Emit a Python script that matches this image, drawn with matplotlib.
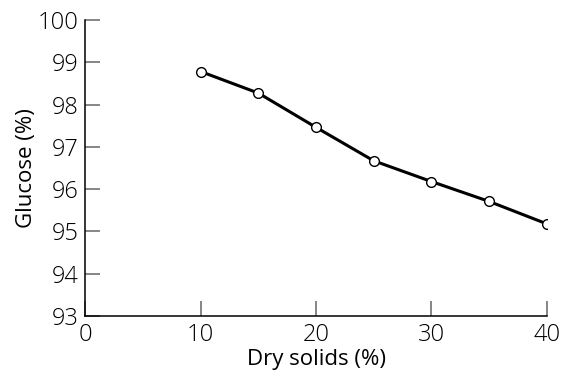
import matplotlib.pyplot as plt

# data
dry_solids = [10, 15, 20, 25, 30, 35, 40]
glucose = [98.78, 98.27, 97.46, 96.67, 96.18, 95.71, 95.18]

x_ticks = [0, 10, 20, 30, 40]
y_ticks = [93, 94, 95, 96, 97, 98, 99, 100]

plt.rcParams['font.family'] = ['Open Sans', 'DejaVu Sans']
plt.rcParams['font.weight'] = 'light'

fig = plt.figure(figsize=(5.61, 3.70), dpi=100)
ax = fig.add_axes([0.1524, 0.146, 0.822, 0.80])

ax.plot(dry_solids, glucose, color="black", linewidth=2.2,
        marker="o", markersize=7, markerfacecolor="white",
        markeredgecolor="black", markeredgewidth=1, zorder=3)

ax.set_xlim(0, 40)
ax.set_ylim(93, 100)
ax.set_xticks(x_ticks)
ax.set_yticks(y_ticks)

# inward grey ticks, only left/bottom spines
ax.spines["top"].set_visible(False)
ax.spines["right"].set_visible(False)
for s in ["left", "bottom"]:
    ax.spines[s].set_linewidth(1.1)
ax.tick_params(direction="in", length=11, width=1.1, color="#666666",
               labelsize=17)
ax.tick_params(axis="x", pad=5)
ax.tick_params(axis="y", pad=5)

ax.set_xlabel("Dry solids (%)", fontsize=16)
ax.xaxis.set_label_coords(0.5, -0.11)
ax.set_ylabel("Glucose (%)", fontsize=16)
ax.yaxis.set_label_coords(-0.105, 0.5)

fig.savefig("out.png", dpi=100)
